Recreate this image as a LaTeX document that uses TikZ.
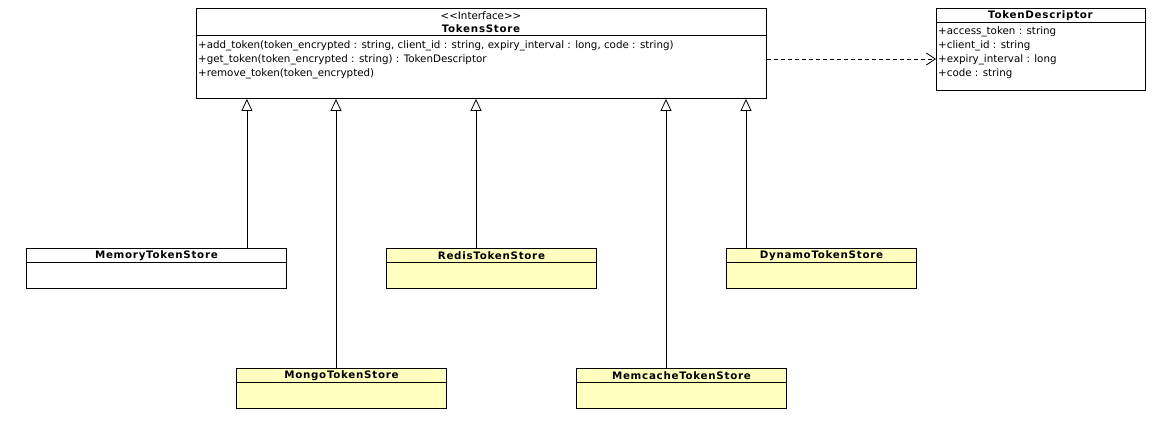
\documentclass[tikz,border=0pt]{standalone}
\usepackage{fontspec}
\setmainfont{DejaVu Sans}
\newfontfamily\titlefont[LetterSpace=7]{DejaVu Sans Bold}
\usetikzlibrary{arrows.meta,calc}
\definecolor{umlyellow}{RGB}{255,255,192}
\begin{document}
\begin{tikzpicture}[x=1pt,y=-1pt,
  box/.style={draw=black,line width=0.9pt,anchor=north west,inner sep=0pt,minimum width=#1},
  cls/.style={box=#1,minimum height=40pt,fill=umlyellow},
  txt/.style={font=\fontsize{10.3}{12}\selectfont,inner sep=0pt},
  ttl/.style={font=\fontsize{10.3}{12}\titlefont,inner sep=0pt},
  mem/.style={txt,anchor=west},
  gen/.style={draw=black,line width=0.8pt,-{Triangle[open,width=11pt,length=12pt]}},
  dep/.style={draw=black,line width=0.8pt,dashed,dash pattern=on 4pt off 3pt,-{Straight Barb[width=12pt,length=9pt]}}]
\useasboundingbox (0,0) rectangle (1159,431);
% Interface
\node[box=570pt,minimum height=90pt,fill=white] (store) at (196,8) {};
\draw[line width=0.8pt] (196,35) -- (766,35);
\node[txt] (stereo) at (481,15.5) {\symbol{60}\kern0pt\symbol{60}Interface\symbol{62}\kern0pt\symbol{62}};
\node[ttl] (storet) at (481,28.5) {TokensStore};
\node[mem] (m1) at (198,45.5) {+add\_token(token\_encrypted : string, client\_id : string, expiry\_interval : long, code : string)};
\node[mem] (m2) at (198,59.5) {+get\_token(token\_encrypted : string) : TokenDescriptor};
\node[mem] (m3) at (198,73.5) {+remove\_token(token\_encrypted)};
% TokenDescriptor
\node[box=209pt,minimum height=82pt,fill=white] (desc) at (936,8) {};
\draw[line width=0.8pt] (936,22) -- (1145,22);
\node[ttl] (desct) at (1040.5,15.5) {TokenDescriptor};
\node[mem] (a1) at (938,31.5) {+access\_token : string};
\node[mem] (a2) at (938,45.5) {+client\_id : string};
\node[mem] (a3) at (938,59.5) {+expiry\_interval : long};
\node[mem] (a4) at (938,73.5) {+code : string};
% implementations
\node[cls=260pt,fill=white] (memory) at (26,248) {};
\node[cls=210pt] (redis) at (386,248) {};
\node[cls=190pt] (dynamo) at (726,248) {};
\node[cls=210pt] (mongo) at (236,368) {};
\node[cls=210pt] (memcache) at (576,368) {};
\foreach \n/\t in {memory/MemoryTokenStore,redis/RedisTokenStore,dynamo/DynamoTokenStore,mongo/MongoTokenStore,memcache/MemcacheTokenStore}{
  \draw[line width=0.8pt] ($(\n.north west)+(0,14)$) -- ($(\n.north east)+(0,14)$);
  \node[ttl] (\n t) at ($(\n.north)+(0,8)$) {\t};
}
% generalizations
\coordinate (g1) at ($(memory.north east)+(-40,0)$);
\coordinate (g2) at ($(mongo.north west)+(100,0)$);
\coordinate (g3) at ($(redis.north west)+(90,0)$);
\coordinate (g4) at ($(memcache.north west)+(90,0)$);
\coordinate (g5) at ($(dynamo.north west)+(20,0)$);
\foreach \g in {g1,g2,g3,g4,g5}{
  \draw[gen] (\g) -- (\g |- store.south);
}
% dependency
\draw[dep] (store.east |- 0,59) -- (desc.west |- 0,59);
\end{tikzpicture}
\end{document}
